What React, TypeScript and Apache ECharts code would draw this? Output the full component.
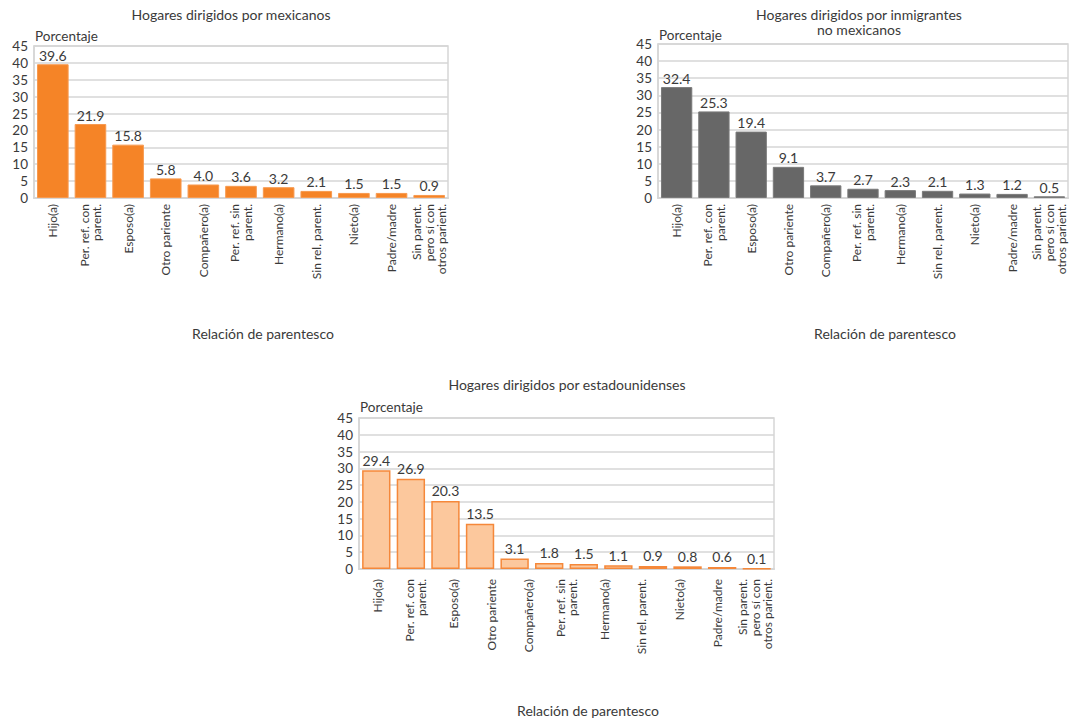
import React, { useEffect, useRef } from "react";
import * as echarts from "echarts";

const categories = [
  "Hijo(a)",
  "Per. ref. con\nparent.",
  "Esposo(a)",
  "Otro pariente",
  "Compañero(a)",
  "Per. ref. sin\nparent.",
  "Hermano(a)",
  "Sin rel. parent.",
  "Nieto(a)",
  "Padre/madre",
  "Sin parent.\npero sí con\notros parient.",
];

const mexicanos = [39.6, 21.9, 15.8, 5.8, 4.0, 3.6, 3.2, 2.1, 1.5, 1.5, 0.9];
const inmigrantes = [32.4, 25.3, 19.4, 9.1, 3.7, 2.7, 2.3, 2.1, 1.3, 1.2, 0.5];
// The third panel has 12 bars but only 11 labels in the source
const estadounidenses = [29.4, 26.9, 20.3, 13.5, 3.1, 1.8, 1.5, 1.1, 0.9, 0.8, 0.6, 0.1];
const estadounidensesSlots = ["b1", "b2", "b3", "b4", "b5", "b6", "b7", "b8", "b9", "b10", "b11", "b12"];

const titles = [
  "Hogares dirigidos por mexicanos",
  "Hogares dirigidos por inmigrantes\nno mexicanos",
  "Hogares dirigidos por estadounidenses",
];
const yName = "Porcentaje";
const xName = "Relación de parentesco";

const FONT = "Lato, 'Open Sans', sans-serif";
const TXT = "#3a3a3a";
const GRIDC = "#d6d6d6";

export default function App() {
  const ref = useRef<HTMLDivElement>(null);
  useEffect(() => {
    document.body.style.margin = "0";
    const chart = echarts.init(ref.current!, null, { renderer: "svg" });

    const grids = [
      { left: 34, top: 46, width: 414, height: 152 },
      { left: 658, top: 44, width: 410, height: 154 },
      { left: 359, top: 418, width: 415, height: 151 },
    ];

    const yAxisBase = (gi: number) => ({
      type: "value",
      gridIndex: gi,
      min: 0,
      max: 45,
      interval: 5,
      axisLine: { show: true, lineStyle: { color: GRIDC, width: 1.5 } },
      axisTick: { show: false },
      splitLine: { lineStyle: { color: GRIDC, width: 1.5 } },
      axisLabel: { color: TXT, fontSize: 13.5, fontFamily: FONT, margin: 6 },
    });

    const xLabel = (margin: number) => ({
      rotate: 90,
      interval: 0,
      color: TXT,
      fontSize: 12,
      lineHeight: 12.5,
      fontFamily: FONT,
      margin,
      align: "right",
    });

    const xAxisBase = (gi: number, data: string[]) => ({
      type: "category",
      gridIndex: gi,
      data,
      axisLine: { show: true, lineStyle: { color: GRIDC, width: 2 } },
      axisTick: { show: false },
      axisLabel: xLabel(6),
    });

    const valLabel = (dist: number) => ({
      show: true,
      position: "top",
      distance: dist,
      color: TXT,
      fontSize: 14,
      fontFamily: FONT,
      formatter: (p: any) => Number(p.value).toFixed(1),
    });

    const txt = (x: number, y: number, text: string, size: number, align: string, lh?: number) => ({
      type: "text",
      x,
      y,
      style: {
        text,
        fill: TXT,
        font: `${size}px ${FONT}`,
        textAlign: align,
        textVerticalAlign: "middle",
        lineHeight: lh,
      },
    });

    const option: any = {
      animation: false,
      backgroundColor: "#ffffff",
      grid: grids.map((g) => ({ ...g, show: true, borderColor: GRIDC, borderWidth: 1.5 })),
      xAxis: [
        xAxisBase(0, categories),
        xAxisBase(1, categories),
        {
          type: "category",
          gridIndex: 2,
          data: estadounidensesSlots,
          axisLine: { show: true, lineStyle: { color: GRIDC, width: 2 } },
          axisTick: { show: false },
          axisLabel: { show: false },
        },
        {
          type: "category",
          gridIndex: 2,
          position: "bottom",
          data: categories,
          axisLine: { show: false },
          axisTick: { show: false },
          axisLabel: xLabel(10),
        },
      ],
      yAxis: [yAxisBase(0), yAxisBase(1), yAxisBase(2)],
      series: [
        {
          type: "bar",
          xAxisIndex: 0,
          yAxisIndex: 0,
          data: mexicanos,
          barCategoryGap: "16%",
          itemStyle: { color: "#F58427", borderColor: "#F79A50", borderWidth: 1 },
          label: valLabel(2),
        },
        {
          type: "bar",
          xAxisIndex: 1,
          yAxisIndex: 1,
          data: inmigrantes,
          barCategoryGap: "16%",
          itemStyle: { color: "#676767", borderColor: "#7a7a7a", borderWidth: 1 },
          label: valLabel(2),
        },
        {
          type: "bar",
          xAxisIndex: 2,
          yAxisIndex: 2,
          data: estadounidenses,
          barCategoryGap: "18%",
          itemStyle: { color: "#FCC89D", borderColor: "#F5883A", borderWidth: 1.5 },
          label: valLabel(3),
        },
      ],
      graphic: [
        txt(231, 14, titles[0], 14, "center"),
        txt(859, 22, titles[1], 14, "center", 15),
        txt(567, 384, titles[2], 14, "center"),
        txt(35, 36, yName, 13.5, "left"),
        txt(659, 35, yName, 13.5, "left"),
        txt(360, 407, yName, 13.5, "left"),
        txt(263, 333, xName, 14, "center"),
        txt(885, 333, xName, 14, "center"),
        txt(588, 710, xName, 14, "center"),
      ],
    };
    chart.setOption(option);
    return () => chart.dispose();
  }, []);
  return <div ref={ref} style={{ width: 1070, height: 721 }} />;
}
